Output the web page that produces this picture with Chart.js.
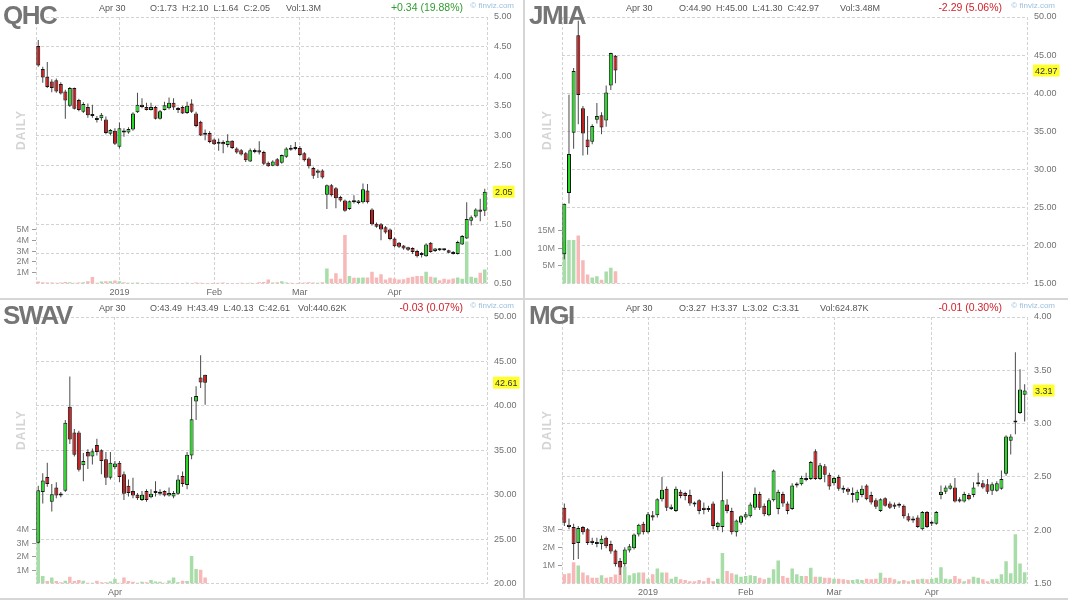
<!DOCTYPE html>
<html><head><meta charset="utf-8">
<script src="https://cdn.jsdelivr.net/npm/chart.js@4.4.1/dist/chart.umd.min.js"></script>
<style>
body{margin:0;background:#fff;width:1068px;height:600px;overflow:hidden;position:relative;font-family:Arial,"Liberation Sans",sans-serif;}
.panel{position:absolute;height:300px;}
.panel canvas{position:absolute;left:0;top:0;}
.tk{position:absolute;left:3px;top:2px;font-weight:bold;font-size:26px;line-height:26px;letter-spacing:-1.5px;color:#757575;}
.inf{position:absolute;top:3px;font-size:9px;line-height:11px;color:#555;white-space:nowrap;}
.chg{position:absolute;top:1px;font-size:10.5px;line-height:13px;white-space:nowrap;}
.up{color:#2f9e2f;} .dn{color:#d0222b;}
.fv{position:absolute;top:1px;font-size:8px;line-height:10px;color:#9cc0de;white-space:nowrap;}
.daily{position:absolute;left:21px;top:130px;transform:translate(-50%,-50%) rotate(-90deg);font-weight:bold;font-size:12px;letter-spacing:1px;color:#d4d4d4;}
.sep{position:absolute;background:#d6d6d6;}
</style>
</head><body>

<div class="panel" style="left:0;top:0;width:524px;">
  <canvas id="cQHC" width="524" height="300"></canvas>
  <div class="tk">QHC</div><div class="daily">DAILY</div>
  <div class="inf" style="left:99px">Apr 30</div>
  <div class="inf" style="left:150px">O:1.73 &nbsp;H:2.10 &nbsp;L:1.64 &nbsp;C:2.05</div>
  <div class="inf" style="left:286px">Vol:1.3M</div>
  <div class="chg up" style="right:61px">+0.34 (19.88%)</div>
  <div class="fv" style="right:10px">© finviz.com</div>
</div>
<div class="panel" style="left:526px;top:0;width:542px;">
  <canvas id="cJMIA" width="542" height="300"></canvas>
  <div class="tk">JMIA</div><div class="daily">DAILY</div>
  <div class="inf" style="left:100px">Apr 30</div>
  <div class="inf" style="left:153px">O:44.90 &nbsp;H:45.00 &nbsp;L:41.30 &nbsp;C:42.97</div>
  <div class="inf" style="left:314px">Vol:3.48M</div>
  <div class="chg dn" style="right:66px">-2.29 (5.06%)</div>
  <div class="fv" style="right:13px">© finviz.com</div>
</div>
<div class="panel" style="left:0;top:300px;width:524px;">
  <canvas id="cSWAV" width="524" height="300"></canvas>
  <div class="tk">SWAV</div><div class="daily">DAILY</div>
  <div class="inf" style="left:99px">Apr 30</div>
  <div class="inf" style="left:150px">O:43.49 &nbsp;H:43.49 &nbsp;L:40.13 &nbsp;C:42.61</div>
  <div class="inf" style="left:298px">Vol:440.62K</div>
  <div class="chg dn" style="right:61px">-0.03 (0.07%)</div>
  <div class="fv" style="right:10px">© finviz.com</div>
</div>
<div class="panel" style="left:526px;top:300px;width:542px;">
  <canvas id="cMGI" width="542" height="300"></canvas>
  <div class="tk">MGI</div><div class="daily">DAILY</div>
  <div class="inf" style="left:100px">Apr 30</div>
  <div class="inf" style="left:153px">O:3.27 &nbsp;H:3.37 &nbsp;L:3.02 &nbsp;C:3.31</div>
  <div class="inf" style="left:294px">Vol:624.87K</div>
  <div class="chg dn" style="right:66px">-0.01 (0.30%)</div>
  <div class="fv" style="right:13px">© finviz.com</div>
</div>
<div class="sep" style="left:523px;top:0;width:2px;height:600px"></div>
<div class="sep" style="left:0;top:298px;width:1068px;height:2px"></div>
<div class="sep" style="left:0;top:598px;width:1068px;height:2px"></div>

<script>
// ---------- data ----------
const monthTickIdx = [18, 39, 58, 79];
const monthTickLabels = ['2019', 'Feb', 'Mar', 'Apr'];
const swavTickIdx = [17];
const swavTickLabels = ['Apr'];

const qhcOpen = [4.51,4.12,3.99,3.91,3.93,3.87,3.74,3.50,3.80,3.60, 3.40,3.48,3.36,3.29,3.29,3.27,3.03,3.08,2.81,3.07, 3.05,3.10,3.39,3.52,3.48,3.43,3.48,3.28,3.43,3.46, 3.55,3.45,3.48,3.38,3.54,3.37,3.23,3.04,3.04,2.93, 2.89,2.89,2.84,2.91,2.78,2.75,2.70,2.56,2.74,2.75, 2.72,2.54,2.49,2.60,2.54,2.64,2.79,2.78,2.79,2.70, 2.61,2.45,2.37,2.41,2.00,2.16,2.11,1.96,1.90,1.76, 1.89,1.86,1.87,2.07,1.75,1.51,1.50,1.45,1.41,1.26, 1.19,1.14,1.11,1.10,1.05,1.00,0.96,1.19,1.05,1.09, 1.07,1.06,1.03,1.00,1.16,1.26,1.56,1.63,1.75,1.73];
const qhcHigh = [4.61,4.16,4.24,3.95,3.96,3.90,3.77,3.82,3.81,3.62, 3.56,3.54,3.52,3.33,3.38,3.32,3.11,3.12,3.22,3.12, 3.14,3.39,3.72,3.63,3.55,3.55,3.50,3.43,3.57,3.64, 3.63,3.48,3.50,3.57,3.61,3.40,3.25,3.10,3.07,2.95, 2.95,2.92,3.02,2.92,2.80,2.77,2.72,2.78,2.78,2.90, 2.74,2.56,2.58,2.62,2.68,2.80,2.84,2.89,2.82,2.72, 2.63,2.47,2.43,2.43,2.17,2.18,2.13,1.98,1.92,1.90, 1.99,1.91,2.19,2.18,1.77,1.53,1.52,1.47,1.43,1.28, 1.20,1.15,1.12,1.11,1.07,1.03,1.18,1.20,1.10,1.10, 1.09,1.07,1.05,1.22,1.32,1.87,1.65,1.77,1.93,2.10];
const qhcLow = [4.16,3.89,3.80,3.73,3.72,3.69,3.28,3.48,3.44,3.41, 3.38,3.30,3.30,3.22,3.25,3.02,3.00,2.84,2.78,2.98, 3.03,3.08,3.38,3.46,3.42,3.42,3.27,3.27,3.42,3.44, 3.43,3.38,3.36,3.36,3.38,3.14,2.99,2.92,2.87,2.84, 2.74,2.70,2.80,2.77,2.69,2.66,2.55,2.55,2.70,2.68, 2.50,2.47,2.48,2.48,2.52,2.62,2.74,2.75,2.65,2.56, 2.44,2.27,2.28,2.27,1.76,1.97,1.77,1.88,1.71,1.74, 1.85,1.84,1.85,1.85,1.48,1.44,1.23,1.34,1.23,1.11, 1.10,1.07,1.05,1.00,0.94,0.94,0.95,1.02,1.03,1.05, 1.05,1.01,0.99,0.99,1.15,1.25,1.48,1.61,1.55,1.64];
const qhcClose = [4.18,3.98,3.82,3.80,3.74,3.71,3.59,3.80,3.45,3.43, 3.53,3.34,3.33,3.26,3.35,3.04,3.09,2.86,3.12,3.05, 3.11,3.37,3.52,3.48,3.43,3.48,3.28,3.41,3.51,3.55, 3.47,3.43,3.37,3.50,3.40,3.16,3.00,3.01,2.89,2.85, 2.86,2.85,2.91,2.79,2.71,2.68,2.58,2.75,2.72,2.71, 2.52,2.48,2.56,2.49,2.67,2.78,2.76,2.77,2.67,2.58, 2.48,2.32,2.41,2.29,2.16,1.99,1.94,1.90,1.73,1.89, 1.87,1.90,2.09,1.87,1.50,1.46,1.41,1.36,1.25,1.13, 1.12,1.09,1.07,1.03,0.96,0.98,1.16,1.03,1.09,1.06, 1.06,1.02,1.00,1.20,1.30,1.59,1.62,1.75,1.71,2.05];
const qhcVol = [0.19,0.12,0.10,0.10,0.08,0.10,0.15,0.12,0.08,0.10, 0.12,0.22,0.60,0.06,0.18,0.20,0.22,0.28,0.22,0.12, 0.06,0.08,0.10,0.05,0.04,0.06,0.05,0.04,0.05,0.04, 0.05,0.04,0.05,0.06,0.04,0.10,0.06,0.05,0.04,0.05, 0.06,0.10,0.05,0.04,0.05,0.06,0.05,0.08,0.05,0.12, 0.15,0.38,0.10,0.12,0.20,0.10,0.06,0.05,0.08,0.10, 0.12,0.10,0.06,0.12,1.38,0.44,0.94,0.44,4.50,0.70, 0.53,0.53,0.55,0.55,1.10,0.55,0.85,0.38,0.53,0.47, 0.38,0.40,0.53,0.63,0.70,0.70,1.10,0.63,0.56,0.30, 0.44,0.38,0.47,0.56,0.44,3.90,0.63,0.53,1.00,1.30];

const jmiaOpen = [18.83,26.9,34.8,47.6,38.0,33.9,33.6,36.5,37.1,36.4,41.0,44.90];
const jmiaHigh = [25.5,39.8,43.3,49.5,38.3,37.0,35.9,38.7,37.5,41.0,45.3,45.00];
const jmiaLow = [18.2,25.5,32.7,35.9,31.8,31.9,33.3,36.0,34.6,35.6,40.4,41.30];
const jmiaClose = [25.46,32.0,42.9,39.75,34.7,32.9,35.7,37.0,35.5,40.1,45.26,42.97];
const jmiaVol = [12.3,12.4,12.4,13.7,6.6,2.6,1.7,2.1,1.1,3.4,4.5,3.48];

const swavOpen = [24.6,30.3,32.0,29.2,30.8,30.0,30.45,39.9,37.0,37.0, 33.3,34.8,34.3,35.6,35.0,34.0,31.9,33.1,33.6,32.3, 31.0,30.4,30.0,29.4,30.4,29.7,30.2,30.1,30.4,29.9, 29.8,30.1,32.1,31.1,34.4,40.5,43.2,43.49];
const swavHigh = [31.0,32.4,33.6,31.2,31.4,30.3,38.4,43.3,37.4,37.2, 34.7,35.1,35.2,36.3,35.1,34.8,34.8,33.8,33.8,32.6, 31.7,31.9,30.2,30.4,30.6,30.6,31.5,30.6,30.5,30.8, 30.4,32.2,32.6,34.8,41.0,42.2,45.7,43.49];
const swavLow = [24.5,29.0,30.9,28.1,29.6,29.7,30.3,35.7,34.3,32.6, 31.5,32.9,33.4,34.4,32.3,31.1,31.7,32.9,31.4,29.4, 29.8,29.6,29.4,29.3,29.2,29.6,29.8,29.9,29.8,29.8, 29.6,30.0,30.9,30.6,34.0,38.4,42.0,40.13];
const swavClose = [30.5,31.6,31.2,30.05,29.9,29.9,38.1,36.2,34.5,32.8, 33.8,34.3,34.9,34.8,33.8,31.9,33.6,33.5,32.0,30.1, 30.2,29.9,29.6,30.0,29.4,30.1,30.3,30.3,29.9,30.2, 30.2,31.7,31.2,34.5,38.5,41.1,42.64,42.61];
const swavVol = [3.1,0.56,0.18,0.44,0.18,0.10,0.20,0.50,0.18,0.26, 0.20,0.05,0.05,0.20,0.10,0.10,0.15,0.36,0.05,0.44, 0.18,0.13,0.05,0.13,0.10,0.26,0.15,0.13,0.05,0.23, 0.44,0.10,0.20,0.18,2.05,1.08,1.03,0.44];

const mgiOpen = [2.21,2.05,2.03,1.88,2.03,2.01,1.90,1.88,1.87,1.93, 1.87,1.81,1.71,1.68,1.81,1.83,1.96,2.06,1.98,2.14, 2.14,2.29,2.39,2.20,2.18,2.36,2.35,2.33,2.25,2.28, 2.21,2.20,2.25,2.03,2.03,2.24,2.18,1.98,2.07,2.12, 2.13,2.21,2.34,2.23,2.14,2.28,2.20,2.34,2.25,2.20, 2.42,2.43,2.48,2.48,2.74,2.48,2.60,2.52,2.44,2.50, 2.39,2.39,2.33,2.28,2.33,2.42,2.33,2.28,2.18,2.30, 2.25,2.24,2.23,2.23,2.13,2.09,2.12,2.01,2.17,2.06, 2.06,2.33,2.36,2.39,2.40,2.29,2.27,2.33,2.33,2.43, 2.44,2.43,2.37,2.37,2.39,2.53,2.84,3.01,3.10,3.27];
const mgiHigh = [2.25,2.11,2.06,2.04,2.04,2.02,1.93,1.93,1.95,1.94, 1.90,1.82,1.74,1.84,1.87,1.97,2.06,2.08,2.17,2.18, 2.30,2.50,2.41,2.24,2.41,2.38,2.36,2.38,2.27,2.29, 2.26,2.23,2.27,2.08,2.55,2.29,2.21,2.10,2.14,2.17, 2.26,2.40,2.36,2.25,2.30,2.57,2.38,2.36,2.27,2.44, 2.45,2.51,2.54,2.65,2.76,2.63,2.62,2.54,2.50,2.52, 2.42,2.40,2.40,2.38,2.42,2.43,2.36,2.30,2.30,2.31, 2.27,2.26,2.26,2.24,2.16,2.13,2.14,2.18,2.18,2.09, 2.18,2.42,2.42,2.44,2.49,2.31,2.36,2.35,2.45,2.54, 2.47,2.48,2.45,2.46,2.56,2.89,2.90,3.67,3.51,3.37];
const mgiLow = [2.04,2.01,1.72,1.73,1.96,1.86,1.86,1.84,1.82,1.83, 1.78,1.66,1.58,1.66,1.79,1.82,1.94,1.96,1.97,2.09, 2.12,2.27,2.18,2.19,2.17,2.30,2.28,2.23,2.22,2.15, 2.15,2.17,2.01,2.00,1.98,2.16,1.96,1.94,2.05,2.10, 2.12,2.19,2.19,2.13,2.13,2.27,2.15,2.22,2.15,2.19, 2.40,2.42,2.46,2.47,2.47,2.47,2.45,2.38,2.42,2.37, 2.35,2.33,2.26,2.26,2.31,2.28,2.24,2.20,2.17,2.22, 2.20,2.20,2.21,2.11,2.08,2.07,2.02,2.00,2.02,2.04, 2.05,2.29,2.34,2.38,2.26,2.26,2.26,2.28,2.31,2.41, 2.39,2.34,2.33,2.36,2.38,2.51,2.71,2.90,3.09,3.02];
const mgiClose = [2.07,2.03,1.87,2.02,1.98,1.88,1.88,1.87,1.92,1.85, 1.80,1.68,1.65,1.82,1.85,1.96,2.05,1.98,2.15,2.12, 2.29,2.38,2.21,2.22,2.39,2.32,2.32,2.25,2.24,2.18, 2.19,2.19,2.04,2.07,2.28,2.18,1.98,2.09,2.13,2.15, 2.24,2.34,2.21,2.15,2.28,2.56,2.36,2.25,2.18,2.42, 2.43,2.49,2.47,2.64,2.48,2.61,2.52,2.41,2.49,2.39, 2.38,2.36,2.35,2.36,2.39,2.29,2.26,2.22,2.29,2.23, 2.21,2.22,2.24,2.13,2.09,2.11,2.03,2.17,2.03,2.07, 2.17,2.36,2.40,2.42,2.27,2.27,2.34,2.29,2.40,2.44, 2.40,2.36,2.43,2.44,2.48,2.88,2.88,3.02,3.32,3.31];
const mgiVol = [0.51,0.57,1.18,1.00,0.61,0.46,0.32,0.32,0.46,0.32, 0.36,0.50,0.90,0.95,0.46,0.57,0.61,0.61,0.27,0.51, 0.84,0.61,0.61,0.27,0.38,0.23,0.19,0.13,0.13,0.19, 0.13,0.32,0.13,0.27,1.70,0.70,0.57,0.50,0.38,0.42, 0.46,0.42,0.32,0.23,0.32,0.80,1.28,0.42,0.32,0.84, 0.51,0.42,0.42,0.88,0.38,0.38,0.32,0.32,0.27,0.27, 0.23,0.19,0.19,0.23,0.19,0.27,0.23,0.27,0.60,0.32, 0.32,0.23,0.13,0.19,0.13,0.19,0.23,0.27,0.23,0.27, 0.32,0.90,0.27,0.23,0.42,0.27,0.13,0.23,0.38,0.32, 0.23,0.13,0.23,0.27,0.51,1.24,0.57,2.74,1.12,0.62];

// ---------- rendering ----------
const FONT = 'Arial, "Liberation Sans", sans-serif';
const GREEN = '#22dd22', RED = '#c81a1a', VGREEN = '#a8dca8', VRED = '#f7b8b8';
const GRID = '#d2d2d2';
Chart.defaults.font.family = FONT;

function build(id, o) {
  const n = o.open.length;
  const body = [], wick = [], vol = [], bodyCol = [], volCol = [];
  for (let i = 0; i < n; i++) {
    const up = o.close[i] >= o.open[i];
    body.push({x: i, y: [o.open[i], o.close[i]]});
    wick.push({x: i, y: [o.low[i], o.high[i]]});
    vol.push({x: i, y: o.vol[i]});
    bodyCol.push(up ? GREEN : RED);
    volCol.push(up ? VGREEN : VRED);
  }
  const last = o.close[n - 1];
  const range = o.pmax - o.pmin;
  const xt = [-0.5].concat(o.xIdx, [99.5]);
  const lastPrice = {
    id: 'lastPrice',
    afterDraw(chart) {
      const ctx = chart.ctx, y = chart.scales.price.getPixelForValue(last);
      const txt = last.toFixed(2);
      ctx.save();
      ctx.font = '9px ' + FONT;
      const w = ctx.measureText(txt).width;
      const x = chart.chartArea.right + 6;
      ctx.fillStyle = '#ffff2e';
      ctx.fillRect(x, y - 6, w + 4, 12);
      ctx.fillStyle = '#333';
      ctx.textBaseline = 'middle';
      ctx.fillText(txt, x + 2, y + 0.5);
      ctx.restore();
    }
  };
  new Chart(document.getElementById(id), {
    type: 'bar',
    data: {datasets: [
      {data: vol, yAxisID: 'vol', backgroundColor: volCol, barThickness: 3.5, grouped: false, inflateAmount: 0, order: 3},
      {data: wick, yAxisID: 'price', backgroundColor: '#4a4a4a', barThickness: 1, grouped: false, inflateAmount: 0, order: 2},
      {data: body, yAxisID: 'price', backgroundColor: bodyCol, borderColor: '#151515', borderWidth: 1, borderSkipped: false, barThickness: 4, minBarLength: 2, grouped: false, inflateAmount: 0, order: 1}
    ]},
    options: {
      responsive: false, animation: false, events: [],
      layout: {padding: {top: 17, left: 0, right: 0, bottom: 0}},
      plugins: {legend: {display: false}, tooltip: {enabled: false}},
      scales: {
        x: {type: 'linear', min: -0.5, max: 99.5, offset: false,
          afterBuildTicks: s => { s.ticks = xt.map(v => ({value: v})); },
          afterFit: s => { s.height = 16.5; },
          grid: {color: GRID, drawTicks: false, offset: false},
          border: {display: false, dash: [3, 2]},
          ticks: {autoSkip: false, maxRotation: 0, padding: 4, color: '#6a6a6a', font: {size: 9},
            callback: v => { const k = o.xIdx.indexOf(v); return k >= 0 ? o.xLab[k] : ''; }}},
        price: {type: 'linear', position: 'right', min: o.pmin, max: o.pmax,
          afterFit: s => { s.width = o.rightW; },
          grid: {color: GRID, drawTicks: false},
          border: {display: false, dash: [3, 2]},
          ticks: {stepSize: o.step, autoSkip: false, padding: 7, color: '#707070', font: {size: 9},
            callback: v => Math.abs(v - last) < range * 0.045 ? '' : v.toFixed(2)}},
        vol: {type: 'linear', position: 'left', min: 0, max: o.vmax,
          afterBuildTicks: s => { s.ticks = o.vTicks.map(v => ({value: v})); },
          afterFit: s => { s.width = 36; },
          grid: {drawOnChartArea: false, drawTicks: true, tickLength: 4, tickColor: '#9a9a9a', color: '#9a9a9a'},
          border: {display: false},
          ticks: {autoSkip: false, padding: 3, color: '#808080', font: {size: 9}, callback: v => v + 'M'}}
      }
    },
    plugins: [lastPrice]
  });
}

build('cQHC', {open: qhcOpen, high: qhcHigh, low: qhcLow, close: qhcClose, vol: qhcVol,
  pmin: 0.5, pmax: 5, step: 0.5, vmax: 24.7, vTicks: [1, 2, 3, 4, 5], xIdx: monthTickIdx, xLab: monthTickLabels, rightW: 37});
build('cJMIA', {open: jmiaOpen, high: jmiaHigh, low: jmiaLow, close: jmiaClose, vol: jmiaVol,
  pmin: 15, pmax: 50, step: 5, vmax: 76, vTicks: [5, 10, 15], xIdx: [], xLab: [], rightW: 41});
build('cSWAV', {open: swavOpen, high: swavHigh, low: swavLow, close: swavClose, vol: swavVol,
  pmin: 20, pmax: 50, step: 5, vmax: 19.9, vTicks: [1, 2, 3, 4], xIdx: swavTickIdx, xLab: swavTickLabels, rightW: 37});
build('cMGI', {open: mgiOpen, high: mgiHigh, low: mgiLow, close: mgiClose, vol: mgiVol,
  pmin: 1.5, pmax: 4, step: 0.5, vmax: 14.85, vTicks: [1, 2, 3], xIdx: monthTickIdx, xLab: monthTickLabels, rightW: 41});
</script>
</body></html>
